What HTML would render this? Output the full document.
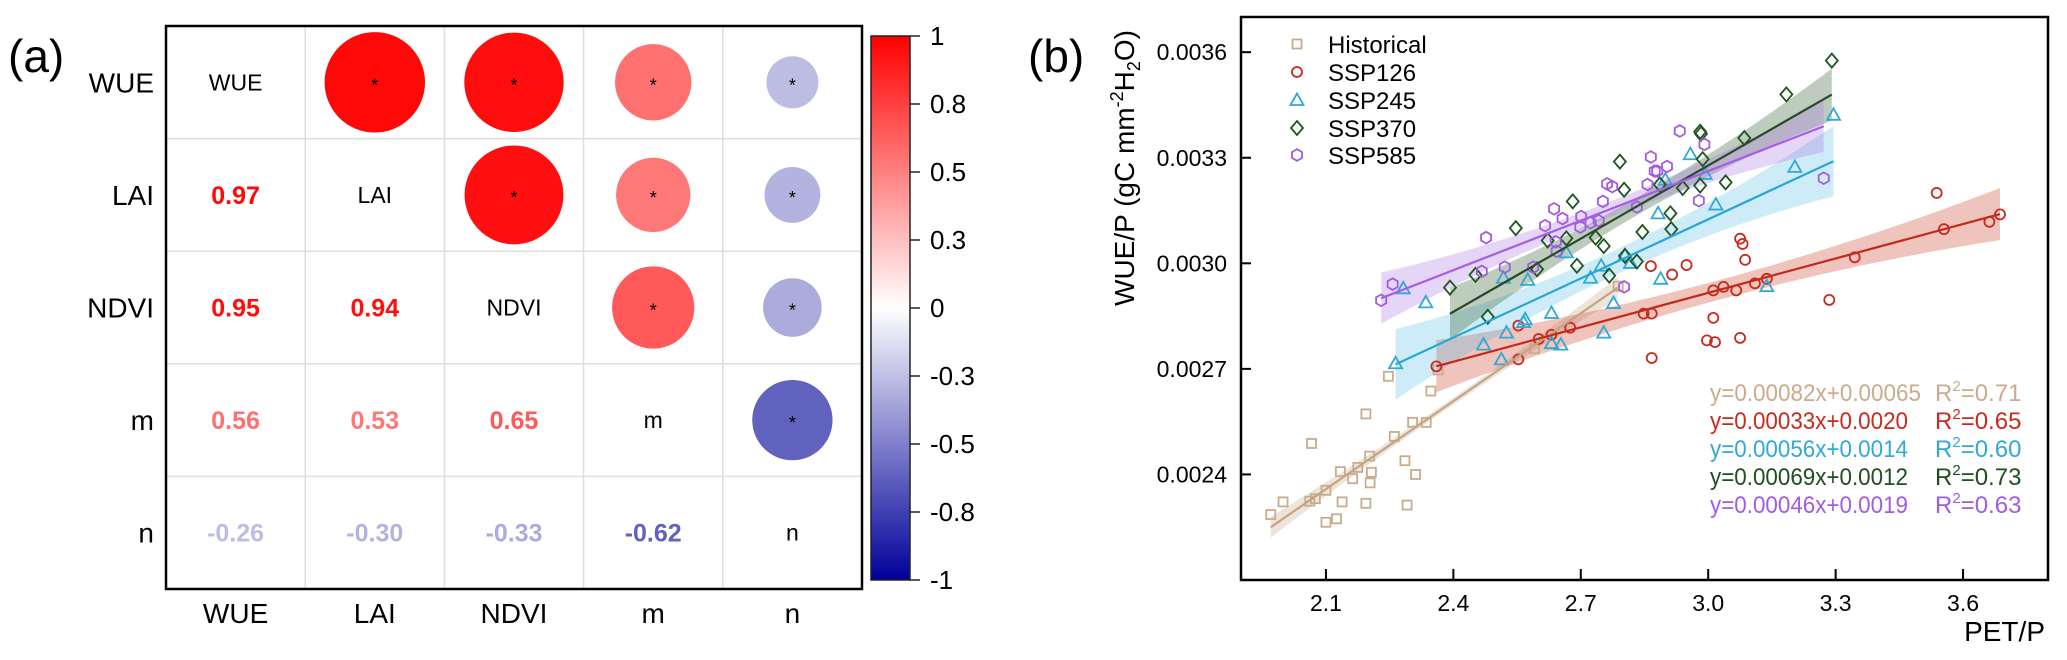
<!DOCTYPE html>
<html><head><meta charset="utf-8"><style>
html,body{margin:0;padding:0;background:#fff;}
svg{display:block;font-family:"Liberation Sans",Arial,sans-serif;}
</style></head><body>
<svg id="fig" width="2067" height="660" viewBox="0 0 2067 660" xmlns="http://www.w3.org/2000/svg">
<defs>
<linearGradient id="cbar" x1="0" y1="0" x2="0" y2="1">
<stop offset="0" stop-color="#ff0000"/><stop offset="0.5" stop-color="#ffffff"/><stop offset="1" stop-color="#00009a"/>
</linearGradient>
</defs>
<text x="8" y="72" font-size="46">(a)</text>
<g id="pa"></g>
<g id="cb"></g>
<text x="1028" y="72" font-size="46">(b)</text>
<g id="pb"></g>
</svg>
<script>
const NS="http://www.w3.org/2000/svg";
function mk(parent,tag,attrs,txt){const e=document.createElementNS(NS,tag);for(const k in attrs)e.setAttribute(k,attrs[k]);if(txt!==undefined)e.textContent=txt;parent.appendChild(e);return e;}

// ---------- Panel (a) data ----------
const vars=["WUE","LAI","NDVI","m","n"];
const corrRow1=[1,0.97,0.95,0.56,-0.26];
const corrRow2=[0.97,1,0.94,0.53,-0.30];
const corrRow3=[0.95,0.94,1,0.65,-0.33];
const corrRow4=[0.56,0.53,0.65,1,-0.62];
const corrRow5=[-0.26,-0.30,-0.33,-0.62,1];
const corr=[corrRow1,corrRow2,corrRow3,corrRow4,corrRow5];
const cbTicks=["1","0.8","0.5","0.3","0","-0.3","-0.5","-0.8","-1"];

const MX=166,MY=26,CW=139.2,CH=112.6;
function colorFor(r){
  if(r>=0){const v=Math.round(255*(1-r));return `rgb(255,${v},${v})`;}
  const a=-r;return `rgb(${Math.round(255*(1-a))},${Math.round(255*(1-a))},${Math.round(255-a*(255-150))})`;
}
const pa=document.getElementById('pa');
for(let i=1;i<5;i++){
  const gv=mk(pa,'line',{x1:MX+i*CW,y1:MY,x2:MX+i*CW,y2:MY+5*CH,stroke:'#dedede','stroke-width':1.5});
  
  
  const gh=mk(pa,'line',{x1:MX,y1:MY+i*CH,x2:MX+5*CW,y2:MY+i*CH,stroke:'#dedede','stroke-width':1.5});
  
  
}
for(let i=0;i<5;i++){
  for(let j=0;j<5;j++){
    const cx=MX+(j+0.5)*CW, cy=MY+(i+0.5)*CH, r=corr[i][j];
    if(i===j){
      const t=mk(pa,'text',{x:cx,y:cy+8,'font-size':23,'text-anchor':'middle',fill:'#000'},vars[i]);
      
      
    } else if(j>i){
      const c=mk(pa,'circle',{cx:cx,cy:cy,r:51*Math.sqrt(Math.abs(r)),fill:colorFor(r)});
      
      
      const s=mk(pa,'text',{x:cx,y:cy+9,'font-size':18,'text-anchor':'middle',fill:'#000'},'*');
      
      
    } else {
      const t=mk(pa,'text',{x:cx,y:cy+9,'font-size':25,'font-weight':'bold','text-anchor':'middle',fill:colorFor(r)},r.toFixed(2));
      
      
    }
  }
  const rl=mk(pa,'text',{x:154,y:MY+(i+0.5)*CH+10,'font-size':28,'text-anchor':'end'},vars[i]);
  
  
  const cl=mk(pa,'text',{x:MX+(i+0.5)*CW,y:623,'font-size':28,'text-anchor':'middle'},vars[i]);
  
  
}
const fr=mk(pa,'rect',{x:MX,y:MY,width:5*CW,height:5*CH,fill:'none',stroke:'#000','stroke-width':2.5});



const cb=document.getElementById('cb');
const CBX=871,CBY=36,CBW=39,CBH=544;
const cbr=mk(cb,'rect',{x:CBX,y:CBY,width:CBW,height:CBH,fill:'url(#cbar)',stroke:'#222','stroke-width':1.5});


cbTicks.forEach((lab,k)=>{
  const y=CBY+k*CBH/(cbTicks.length-1);
  const tl=mk(cb,'line',{x1:CBX+CBW,y1:y,x2:CBX+CBW+10,y2:y,stroke:'#222','stroke-width':1.5});
  
  
  const tt=mk(cb,'text',{x:930,y:y+9,'font-size':26},lab);
  
  
});

// ---------- Panel (b) data ----------
const seriesNames=["Historical","SSP126","SSP245","SSP370","SSP585"];
const histX=[1.970,1.999,2.062,2.075,2.100,2.138,2.100,2.125,2.066,2.134,2.163,2.175,2.203,2.207,2.204,2.194,2.194,2.261,2.304,2.336,2.286,2.311,2.291,2.247,2.347,2.364,2.591,2.788];
const histY=[0.002286,0.002322,0.002324,0.002331,0.002355,0.002322,0.002264,0.002274,0.002488,0.002408,0.002388,0.002420,0.002452,0.002406,0.002376,0.002318,0.002572,0.002508,0.002548,0.002548,0.002439,0.002400,0.002313,0.002679,0.002637,0.002697,0.002757,0.002935];
const s126X=[2.360,2.553,2.553,2.601,2.631,2.675,2.848,2.867,2.867,2.865,2.915,2.949,2.997,3.016,3.012,3.012,3.036,3.066,3.075,3.075,3.081,3.087,3.110,3.138,3.285,3.345,3.538,3.555,3.662,3.687];
const s126Y=[0.002707,0.002727,0.002823,0.002785,0.002797,0.002817,0.002857,0.002857,0.002731,0.002992,0.002968,0.002995,0.002781,0.002776,0.002845,0.002923,0.002933,0.002923,0.002788,0.003070,0.003055,0.003010,0.002943,0.002956,0.002896,0.003017,0.003200,0.003097,0.003118,0.003139];
const s245X=[2.264,2.282,2.335,2.471,2.513,2.525,2.518,2.565,2.569,2.575,2.631,2.631,2.653,2.666,2.723,2.748,2.754,2.777,2.804,2.817,2.882,2.888,2.899,2.958,2.993,3.018,3.138,3.204,3.295];
const s245Y=[0.002716,0.002929,0.002889,0.002769,0.002727,0.002803,0.002959,0.002833,0.002841,0.002953,0.002859,0.002773,0.002769,0.003031,0.002959,0.002993,0.002803,0.002887,0.003023,0.003001,0.003142,0.002956,0.003238,0.003310,0.003254,0.003167,0.002935,0.003274,0.003422];
const s370X=[2.392,2.481,2.452,2.547,2.597,2.622,2.666,2.681,2.691,2.735,2.754,2.767,2.792,2.802,2.804,2.832,2.845,2.886,2.911,2.913,2.940,2.981,2.983,2.987,2.981,3.041,3.085,3.184,3.291];
const s370Y=[0.002931,0.002848,0.002967,0.003100,0.002983,0.003065,0.003071,0.003176,0.002993,0.003073,0.003049,0.002965,0.003289,0.003209,0.003021,0.003005,0.003089,0.003224,0.003142,0.003097,0.003214,0.003374,0.003368,0.003296,0.003221,0.003230,0.003356,0.003480,0.003576];
const s585X=[2.230,2.257,2.477,2.467,2.521,2.588,2.616,2.637,2.641,2.643,2.657,2.699,2.701,2.723,2.742,2.752,2.762,2.774,2.802,2.832,2.857,2.865,2.874,2.880,2.903,2.933,2.978,2.991,3.272];
const s585Y=[0.002895,0.002941,0.003073,0.002977,0.002989,0.002989,0.003107,0.003155,0.003061,0.003034,0.003127,0.003103,0.003133,0.003115,0.003121,0.003176,0.003226,0.003218,0.002933,0.003160,0.003224,0.003302,0.003262,0.003262,0.003275,0.003376,0.003178,0.003338,0.003242];
const fitSlope=[0.000833,0.000326,0.000560,0.000693,0.000469];
const fitIntercept=[0.000609,0.001938,0.001445,0.001199,0.001855];
const bandMid=[0.000010,0.000028,0.000035,0.000025,0.000022];
const bandEnd=[0.000030,0.000074,0.000100,0.000074,0.000073];
const eqLabels=["y=0.00082x+0.00065","y=0.00033x+0.0020","y=0.00056x+0.0014","y=0.00069x+0.0012","y=0.00046x+0.0019"];
const r2Labels=["0.71","0.65","0.60","0.73","0.63"];
const xTicks=[2.1,2.4,2.7,3.0,3.3,3.6];
const yTicks=[0.0024,0.0027,0.0030,0.0033,0.0036];

const allX=[histX,s126X,s245X,s370X,s585X], allY=[histY,s126Y,s245Y,s370Y,s585Y];
const markerColor=["#c9ab8d","#c92a1e","#2fa9d6","#1f561f","#a25ce2"];
const lineColor=["#c4a486","#c42a1c","#2aa6d4","#2a4a2a","#a55ee4"];
const bandColor=["rgba(200,172,140,0.32)","rgba(205,70,50,0.32)","rgba(80,185,225,0.28)","rgba(40,85,40,0.30)","rgba(170,115,230,0.30)"];
const eqColor=["#c9ab8d","#c92a1e","#2fa9d6","#1f4f1f","#a25ce2"];
const shapes=["square","circle","triangle","diamond","hexagon"];

const PL=1241,PR=2048,PT=17,PB=580,X0=1.9,X1=3.8,Y0=0.0021,Y1=0.0037;
const sx=v=>PL+(v-X0)/(X1-X0)*(PR-PL);
const sy=v=>PB-(v-Y0)/(Y1-Y0)*(PB-PT);
const pb=document.getElementById('pb');

function marker(g,shape,x,y,col){
  let e;
  if(shape==='square') e=mk(g,'rect',{x:x-4.5,y:y-4.5,width:9,height:9});
  else if(shape==='circle') e=mk(g,'circle',{cx:x,cy:y,r:5});
  else if(shape==='triangle') e=mk(g,'polygon',{points:`${x},${y-6.5} ${x-6.5},${y+5} ${x+6.5},${y+5}`});
  else if(shape==='diamond') e=mk(g,'polygon',{points:`${x},${y-7} ${x+6},${y} ${x},${y+7} ${x-6},${y}`});
  else { let p=[];for(let k=0;k<6;k++){const a=Math.PI/6+k*Math.PI/3;p.push((x+5.8*Math.cos(a)).toFixed(1)+','+(y+5.8*Math.sin(a)).toFixed(1));} e=mk(g,'polygon',{points:p.join(' ')}); }
  e.setAttribute('fill','none');e.setAttribute('stroke',col);e.setAttribute('stroke-width',1.8);
  return e;
}

for(let s=0;s<5;s++){
  const xs=allX[s];const xmin=Math.min(...xs),xmax=Math.max(...xs),xm=(xmin+xmax)/2,hr=(xmax-xmin)/2;
  const N=40,up=[],dn=[];
  for(let k=0;k<=N;k++){const x=xmin+(xmax-xmin)*k/N;const yv=fitSlope[s]*x+fitIntercept[s];
    const t=(x-xm)/hr;const hw=bandMid[s]+(bandEnd[s]-bandMid[s])*t*t;
    up.push(sx(x).toFixed(1)+','+sy(yv+hw).toFixed(1));dn.unshift(sx(x).toFixed(1)+','+sy(yv-hw).toFixed(1));}
  const b=mk(pb,'polygon',{points:up.concat(dn).join(' '),fill:bandColor[s]});
  
  
}
for(let s=0;s<5;s++){
  const g=mk(pb,'g',{});
  
  
  for(let i=0;i<allX[s].length;i++){
    const m=marker(g,shapes[s],sx(allX[s][i]),sy(allY[s][i]),markerColor[s]);
    
    
  }
}
for(let s=0;s<5;s++){
  const xs=allX[s];const xmin=Math.min(...xs),xmax=Math.max(...xs);
  const l=mk(pb,'line',{x1:sx(xmin),y1:sy(fitSlope[s]*xmin+fitIntercept[s]),x2:sx(xmax),y2:sy(fitSlope[s]*xmax+fitIntercept[s]),stroke:lineColor[s],'stroke-width':2.2});
  
  
}
const pf=mk(pb,'rect',{x:PL,y:PT,width:PR-PL,height:PB-PT,fill:'none',stroke:'#000','stroke-width':2.5});


xTicks.forEach(v=>{
  const tk=mk(pb,'line',{x1:sx(v),y1:PB,x2:sx(v),y2:PB-11,stroke:'#000','stroke-width':2});
  
  
  const tl=mk(pb,'text',{x:sx(v),y:611,'font-size':23,'text-anchor':'middle'},v.toFixed(1));
  
  
});
yTicks.forEach(v=>{
  const tk=mk(pb,'line',{x1:PL,y1:sy(v),x2:PL+10,y2:sy(v),stroke:'#000','stroke-width':2});
  
  
  const tl=mk(pb,'text',{x:1227,y:sy(v)+8,'font-size':23,'text-anchor':'end'},v.toFixed(4));
  
  
});
const xt=mk(pb,'text',{x:2045,y:641,'font-size':28,'text-anchor':'end'},'PET/P');


const yt=mk(pb,'text',{x:0,y:0,'font-size':28,'text-anchor':'middle',transform:'translate(1134,168) rotate(-90)'});


yt.innerHTML='WUE/P (gC mm<tspan font-size="18" dy="-11">-2</tspan><tspan dy="11">H</tspan><tspan font-size="18" dy="6">2</tspan><tspan dy="-6">O)</tspan>';
const lg=mk(pb,'g',{});


const legY=[44,72,100,128,155];
for(let s=0;s<5;s++){
  const m=marker(lg,shapes[s],1297,legY[s],markerColor[s]);
  
  
  const t=mk(lg,'text',{x:1328,y:legY[s]+9,'font-size':24},seriesNames[s]);
  
  
}
const eqY=[401,429,457,485,513];
for(let s=0;s<5;s++){
  const t=mk(pb,'text',{x:1710,y:eqY[s],'font-size':24,fill:eqColor[s],textLength:(s===0?211:198),lengthAdjust:'spacingAndGlyphs'},eqLabels[s]);
  
  
  const r=mk(pb,'text',{x:1935,y:eqY[s],'font-size':24,fill:eqColor[s]});
  
  
  r.innerHTML='R<tspan font-size="15" dy="-10">2</tspan><tspan dy="10">='+r2Labels[s]+'</tspan>';
}
</script>
</body></html>
